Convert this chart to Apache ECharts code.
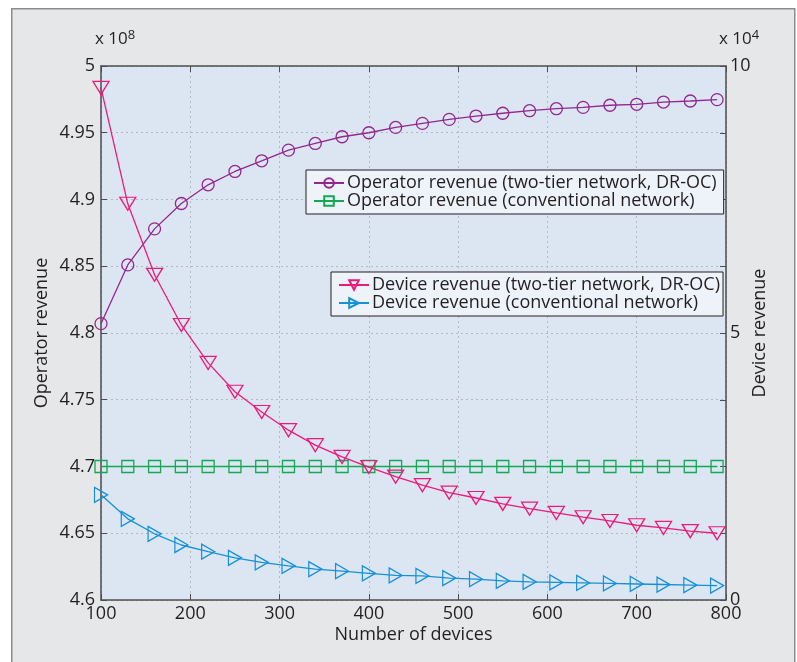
<!DOCTYPE html>
<html>
<head>
<meta charset="utf-8">
<script src="https://cdn.jsdelivr.net/npm/echarts@6/dist/echarts.min.js"></script>
<style>
  html, body { margin: 0; padding: 0; background: #fff; }
  #chart { width: 797px; height: 662px; }
</style>
</head>
<body>
<div id="chart"></div>
<script>
// number of devices
const devices = [100, 130, 160, 190, 220, 250, 280, 310, 340, 370, 400, 430,
                 460, 490, 520, 550, 580, 610, 640, 670, 700, 730, 760, 790];
// operator revenue, x 10^8
const opTwoTier = [4.807, 4.851, 4.878, 4.897, 4.911, 4.921, 4.929, 4.937, 4.942, 4.947, 4.950, 4.954,
                   4.957, 4.960, 4.9625, 4.9646, 4.9665, 4.968, 4.969, 4.9706, 4.9713, 4.973, 4.9738, 4.9748];
const opConv = [4.7, 4.7, 4.7, 4.7, 4.7, 4.7, 4.7, 4.7, 4.7, 4.7, 4.7, 4.7,
                4.7, 4.7, 4.7, 4.7, 4.7, 4.7, 4.7, 4.7, 4.7, 4.7, 4.7, 4.7];
// device revenue, x 10^4
const devTwoTier = [9.59, 7.42, 6.09, 5.15, 4.44, 3.90, 3.52, 3.18, 2.90, 2.68, 2.49, 2.31,
                    2.15, 2.01, 1.91, 1.80, 1.71, 1.63, 1.55, 1.48, 1.40, 1.35, 1.29, 1.25];
const devConv = [1.97, 1.52, 1.24, 1.03, 0.905, 0.79, 0.705, 0.64, 0.58, 0.54, 0.50, 0.46,
                 0.45, 0.41, 0.39, 0.36, 0.34, 0.33, 0.32, 0.31, 0.30, 0.29, 0.28, 0.27];

const rightLabels = [0, 5, 10];

const font = 'Open Sans';
const fs = 18;
const textColor = '#231f20';
const axisColor = '#4d4d4f';

function pairs(ys) {
    return devices.map((x, i) => [x, ys[i]]);
}

function lineSeries(name, ys, color, symbol, size, rotate, yIndex) {
    return {
        name,
        type: 'line',
        yAxisIndex: yIndex,
        data: pairs(ys),
        symbol,
        symbolSize: size,
        symbolRotate: rotate,
        showAllSymbol: true,
        lineStyle: { color, width: 1.3 },
        itemStyle: { color: 'rgba(0,0,0,0)', borderColor: color, borderWidth: 1.3 },
        emphasis: { disabled: true },
        animation: false,
        z: 3
    };
}

const chart = echarts.init(document.getElementById('chart'));

const legendBase = {
    orient: 'vertical',
    itemGap: 0,
    itemWidth: 30,
    itemHeight: 12,
    backgroundColor: '#eef3fa',
    borderColor: '#231f20',
    borderWidth: 1,
    borderRadius: 0,
    selectedMode: false,
    textStyle: { fontFamily: font, fontSize: fs, color: textColor, padding: [0, 0, 0, -2] }
};

const supStyle = { fontSize: 13, fontFamily: font, verticalAlign: 'top', padding: [0, 0, 8, 0] };

chart.setOption({
    animation: false,
    graphic: [
        {
            type: 'rect',
            left: 11, top: 8,
            shape: { width: 783, height: 700 },
            style: { fill: '#e6e7e9', stroke: '#8c8c8c', lineWidth: 1.5 },
            z: -10
        },
        {
            type: 'text',
            left: 95, top: 29,
            style: { text: 'x 10{s|8}', font: '17px "Open Sans"', fill: textColor, rich: { s: supStyle } }
        },
        {
            type: 'text',
            left: 719, top: 29,
            style: { text: 'x 10{s|4}', font: '17px "Open Sans"', fill: textColor, rich: { s: supStyle } }
        }
    ],
    grid: {
        left: 101, right: 71, top: 66, bottom: 62,
        show: true,
        backgroundColor: '#dce6f2',
        borderWidth: 0
    },
    legend: [
        Object.assign({}, legendBase, {
            left: 306, top: 170,
            padding: [4, 7, 4, 7],
            data: ['Operator revenue (two-tier network, DR-OC)', 'Operator revenue (conventional network)']
        }),
        Object.assign({}, legendBase, {
            left: 331, top: 272,
            padding: [4, 3, 4, 7],
            data: ['Device revenue (two-tier network, DR-OC)', 'Device revenue (conventional network)']
        })
    ],
    xAxis: [
        {
            type: 'value',
            min: 100, max: 800, interval: 100,
            name: 'Number of devices',
            nameLocation: 'middle',
            nameGap: 26,
            nameMoveOverlap: false,
            nameTextStyle: { fontFamily: font, fontSize: fs, color: textColor },
            axisLine: { lineStyle: { color: axisColor, width: 1.5 } },
            axisTick: { inside: true, length: 6, lineStyle: { color: axisColor } },
            axisLabel: { fontFamily: font, fontSize: fs, color: textColor, margin: 5 },
            splitLine: { show: true, lineStyle: { color: '#b5b9bf', type: [2, 3], width: 1 } }
        },
        {
            type: 'value',
            position: 'top',
            min: 100, max: 800, interval: 100,
            axisLine: { show: true, lineStyle: { color: axisColor, width: 1.5 } },
            axisTick: { show: true, inside: true, length: 6, lineStyle: { color: axisColor } },
            axisLabel: { show: false },
            splitLine: { show: false }
        }
    ],
    yAxis: [
        {
            type: 'value',
            min: 4.6, max: 5, interval: 0.05,
            name: 'Operator revenue',
            nameLocation: 'middle',
            nameGap: 50,
            nameMoveOverlap: false,
            nameTextStyle: { fontFamily: font, fontSize: fs, color: textColor },
            axisLine: { show: true, lineStyle: { color: axisColor, width: 1.5 } },
            axisTick: { show: true, inside: true, length: 6, lineStyle: { color: axisColor } },
            axisLabel: {
                fontFamily: font, fontSize: fs, color: textColor, margin: 6,
                formatter: v => String(+v.toFixed(2))
            },
            splitLine: { show: true, lineStyle: { color: '#b5b9bf', type: [2, 3], width: 1 } }
        },
        {
            type: 'value',
            position: 'right',
            min: 0, max: 10, interval: 1.25,
            name: 'Device revenue',
            nameLocation: 'middle',
            nameGap: 25,
            nameMoveOverlap: false,
            nameTextStyle: { fontFamily: font, fontSize: fs, color: textColor },
            axisLine: { show: true, lineStyle: { color: axisColor, width: 1.5 } },
            axisTick: { show: true, inside: true, length: 6, lineStyle: { color: axisColor } },
            axisLabel: {
                fontFamily: font, fontSize: fs, color: textColor, margin: 4,
                formatter: v => rightLabels.indexOf(+v.toFixed(2)) >= 0 ? String(+v.toFixed(2)) : ''
            },
            splitLine: { show: false }
        }
    ],
    series: [
        lineSeries('Operator revenue (two-tier network, DR-OC)', opTwoTier, '#93278f', 'circle', 12, 0, 0),
        lineSeries('Operator revenue (conventional network)', opConv, '#13a853', 'rect', 12, 0, 0),
        lineSeries('Device revenue (two-tier network, DR-OC)', devTwoTier, '#ec1a7b', 'triangle', [16, 13], 180, 1),
        lineSeries('Device revenue (conventional network)', devConv, '#1791d6', 'triangle', [15, 13], -90, 1)
    ]
});
</script>
</body>
</html>
